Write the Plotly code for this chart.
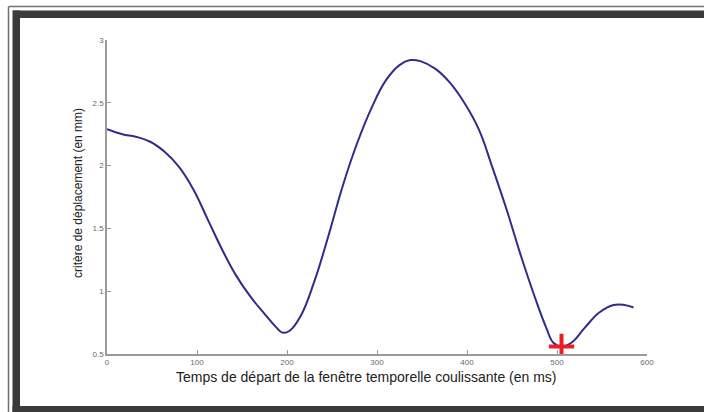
import plotly.graph_objects as go

# Start time of the sliding window (ms) and displacement criterion (mm)
t_ms = [0, 17, 32, 48, 64, 80, 96, 112, 128, 143, 159, 175, 187, 195, 203, 215,
        230, 246, 262, 278, 294, 310, 325, 337, 349, 365, 381, 397, 413, 428,
        444, 460, 476, 488, 496, 505, 516, 531, 547, 563, 575, 585]
crit_mm = [2.29, 2.25, 2.23, 2.19, 2.11, 1.99, 1.81, 1.57, 1.33, 1.13, 0.96, 0.82,
           0.72, 0.67, 0.685, 0.80, 1.07, 1.44, 1.84, 2.18, 2.46, 2.68, 2.80, 2.84,
           2.83, 2.77, 2.66, 2.50, 2.29, 1.99, 1.65, 1.28, 0.94, 0.71, 0.59, 0.56,
           0.59, 0.71, 0.83, 0.89, 0.89, 0.87]

x_ticks = [0, 100, 200, 300, 400, 500, 600]
y_ticks = [0.5, 1, 1.5, 2, 2.5, 3]
y_tick_text = ["0.5", "1", "1.5", "2", "2.5", "3"]

# optimum: smallest criterion value
i_min = min(range(len(crit_mm)), key=lambda i: crit_mm[i])

W, H = 704, 412
ML, MR, MT, MB = 107, 57, 40, 58
PW, PH = W - ML - MR, H - MT - MB


def px(x):
    return (x - ML) / PW


def py(y):
    return (H - MB - y) / PH


fig = go.Figure()
fig.add_trace(go.Scatter(
    x=t_ms, y=crit_mm, mode="lines",
    line=dict(color="#302c8c", width=2, shape="spline", smoothing=1.2),
    hoverinfo="skip", showlegend=False,
))
fig.add_trace(go.Scatter(
    x=[t_ms[i_min]], y=[crit_mm[i_min]], mode="markers",
    marker=dict(symbol="cross-thin", size=18, line=dict(color="#ee1c24", width=4)),
    showlegend=False,
))

axis_common = dict(
    showgrid=False, zeroline=False, showline=True, linecolor="#9a9a9a", linewidth=1.5,
    ticks="inside", ticklen=4, tickwidth=1, tickcolor="#9a9a9a",
    tickfont=dict(family="Liberation Sans, Arial, sans-serif", size=8, color="#6a6a6a"),
)
fig.update_xaxes(range=[0, 600], tickvals=x_ticks, **axis_common)
fig.update_yaxes(range=[0.5, 3], tickvals=y_ticks, ticktext=y_tick_text, **axis_common)

# Framing border around the figure
shapes = []
frame_dark = "#3b3b3d"
# dark band: top, left, bottom
shapes.append(dict(type="rect", xref="paper", yref="paper", x0=px(13), x1=px(W + 2),
                   y0=py(18), y1=py(10.5), fillcolor=frame_dark, line=dict(width=0), layer="above"))
shapes.append(dict(type="rect", xref="paper", yref="paper", x0=px(12.5), x1=px(20),
                   y0=py(H + 2), y1=py(10.5), fillcolor=frame_dark, line=dict(width=0), layer="above"))
shapes.append(dict(type="rect", xref="paper", yref="paper", x0=px(12.5), x1=px(W + 2),
                   y0=py(H + 2), y1=py(406), fillcolor=frame_dark, line=dict(width=0), layer="above"))
# thin outer lines
shapes.append(dict(type="line", xref="paper", yref="paper", x0=px(8.5), x1=px(W + 2),
                   y0=py(6.5), y1=py(6.5), line=dict(color="#707070", width=1.5), layer="above"))
shapes.append(dict(type="line", xref="paper", yref="paper", x0=px(8.5), x1=px(8.5),
                   y0=py(6.5), y1=py(H + 2), line=dict(color="#707070", width=1.5), layer="above"))
fig.update_layout(shapes=shapes)

fig.add_annotation(
    text="Temps de départ de la fenêtre temporelle coulissante (en ms)",
    xref="paper", yref="paper", x=px(366), y=py(377), showarrow=False,
    xanchor="center", yanchor="middle",
    font=dict(family="Liberation Sans, Arial, sans-serif", size=14, color="#222222"),
)
fig.add_annotation(
    text="critère de déplacement (en mm)",
    xref="paper", yref="paper", x=px(78), y=py(193), showarrow=False, textangle=-90,
    xanchor="center", yanchor="middle",
    font=dict(family="Liberation Sans, Arial, sans-serif", size=12, color="#222222"),
)

fig.update_layout(
    width=W, height=H, margin=dict(l=ML, r=MR, t=MT, b=MB),
    paper_bgcolor="white", plot_bgcolor="white",
)

fig.write_html("out.html")
